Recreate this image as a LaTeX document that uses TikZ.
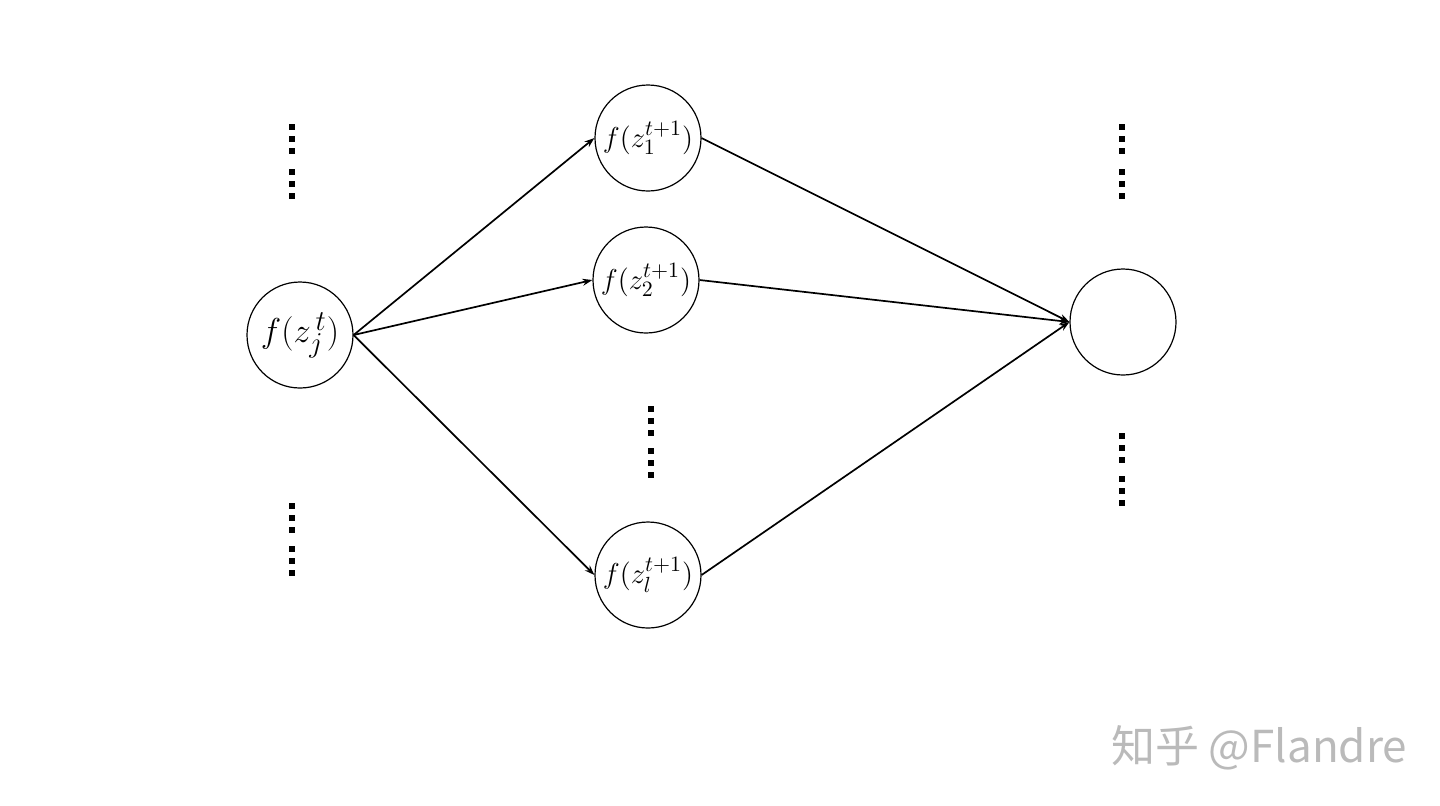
\documentclass[tikz,border=0pt]{standalone}
\usepackage{fontspec}
\newfontfamily\cjk{Noto Sans CJK SC}
\usetikzlibrary{arrows.meta}
\begin{document}
\begin{tikzpicture}[x=0.5pt,y=-0.5pt,
  neuron/.style={circle,draw,line width=0.6pt,minimum size=53pt,inner sep=0pt},
  conn/.style={line width=0.85pt,-{Stealth[length=5pt,width=3.5pt]}},
  dotsq/.style={fill=black,minimum size=2.6pt,inner sep=0pt,rectangle}]
\useasboundingbox (0,0) rectangle (1440,805);
\node[neuron,font=\fontsize{19}{22}\selectfont] (a) at (300,335) {$f(z_j^{\,t})$};
\node[neuron,font=\fontsize{15.5}{18}\selectfont] (b1) at (648,138) {$f(z_1^{t+1})$};
\node[neuron,font=\fontsize{15.5}{18}\selectfont] (b2) at (646,280) {$f(z_2^{t+1})$};
\node[neuron,font=\fontsize{15.5}{18}\selectfont] (bl) at (648,575) {$f(z_l^{t+1})$};
\node[neuron] (c) at (1123,322) {};
\draw[conn] (a.east) -- (b1.west);
\draw[conn] (a.east) -- (b2.west);
\draw[conn] (a.east) -- (bl.west);
\draw[conn] (b1.east) -- (c.west);
\draw[conn] (b2.east) -- (c.west);
\draw[conn] (bl.east) -- (c.west);
% vertical dots
\foreach \x/\y in {292/127,292/172,292/506,292/549,651/409,651/451,1122/127,1122/172,1122/436,1122/479}{
  \foreach \k in {0,1,2}{
    \node[dotsq] at (\x,\y+\k*12) {};
  }
}
\node[anchor=west,text=black!27,font=\cjk\fontsize{22}{26}\selectfont] (wm) at (1104,748) {知乎 @Flandre};
\end{tikzpicture}
\end{document}
